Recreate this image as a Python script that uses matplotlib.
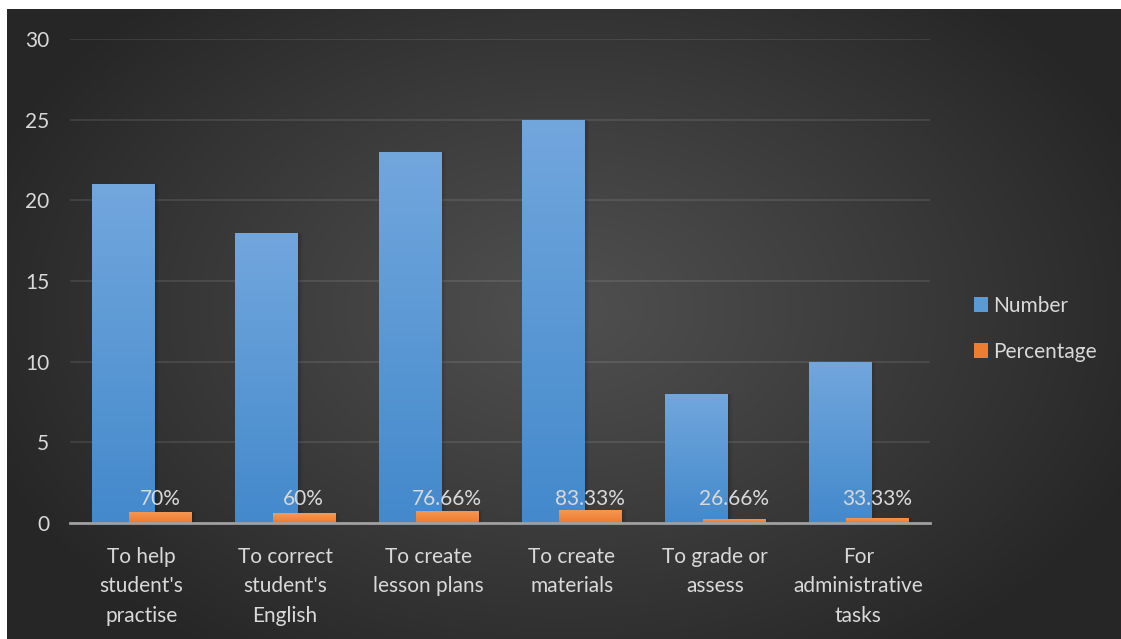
import numpy as np
import matplotlib
matplotlib.use("Agg")
import matplotlib.pyplot as plt
from matplotlib.patches import Patch
from matplotlib.colors import LinearSegmentedColormap

plt.rcParams['font.family'] = ['Lato', 'DejaVu Sans']

categories = ["To help\nstudent's\npractise", "To correct\nstudent's\nEnglish",
              "To create\nlesson plans", "To create\nmaterials",
              "To grade or\nassess", "For\nadministrative\ntasks"]
number = [21, 18, 23, 25, 8, 10]
percentage = [0.70, 0.60, 0.7666, 0.8333, 0.2666, 0.3333]
percentage_labels = ["70%", "60%", "76.66%", "83.33%", "26.66%", "33.33%"]
yticks = [0, 5, 10, 15, 20, 25, 30]

W, H = 1121, 639
FS = 15
fig = plt.figure(figsize=(W / 100, H / 100), dpi=100, facecolor='white')

# dark radial-gradient backdrop
bg = fig.add_axes([7 / W, 0, 1 - 7 / W, 630 / H])
bg.set_axis_off()
yy, xx = np.mgrid[0:630, 0:1114]
cx, cy = 560, 300
d = np.sqrt(((xx - cx) / 620) ** 2 + ((yy - cy) / 420) ** 2)
d = np.clip(d, 0, 1)
shade = 0.31 - (0.31 - 0.150) * d ** 1.1
bg.imshow(np.dstack([shade, shade, shade]), aspect='auto', extent=(0, 1, 0, 1))
bg.set_xlim(0, 1)
bg.set_ylim(0, 1)

ax = fig.add_axes([70 / W, (H - 523) / H, 860 / W, 484 / H])
ax.patch.set_alpha(0)

x = np.arange(len(categories))
bw = 0.433
off = 0.13

blue_bars = ax.bar(x - off, number, width=bw, color='#5b9bd5', zorder=3)
orange_bars = ax.bar(x + off, percentage, width=bw, color='#ed7d31', zorder=4)


def gradient_fill(bars, top, bottom, z):
    cmap = LinearSegmentedColormap.from_list('g', [bottom, top])
    grad = np.linspace(0, 1, 256).reshape(-1, 1)
    for b in bars:
        x0, y0 = b.get_x(), b.get_y()
        w, h = b.get_width(), b.get_height()
        im = ax.imshow(grad, cmap=cmap, aspect='auto', origin='lower',
                       extent=(x0, x0 + w, y0, y0 + h), zorder=z)
        im.set_clip_path(b)
        # soft shadow to the right
        for k, a in enumerate([0.10, 0.07, 0.04]):
            ax.add_patch(plt.Rectangle((x0 + w, y0), 0.012 * (k + 1), h,
                                       color='black', alpha=a, lw=0, zorder=z - 1))


gradient_fill(blue_bars, '#72a7dd', '#4389cc', 3)
gradient_fill(orange_bars, '#f59a55', '#ee7a2c', 4)

for xi, lab in zip(x + off, percentage_labels):
    ax.text(xi, 1.1, lab, ha='center', va='baseline', color='#d9d9d9',
            fontsize=FS, zorder=6)

ax.set_xlim(-0.5, len(categories) - 0.5)
ax.set_ylim(0, 30)
ax.set_yticks(yticks)
ax.set_xticks(x)
ax.set_xticklabels(categories, linespacing=1.6)
ax.tick_params(axis='both', length=0, colors='#d9d9d9', labelsize=FS)
ax.tick_params(axis='y', pad=15)
ax.tick_params(axis='x', pad=17)
ax.grid(axis='y', color='white', alpha=0.1, lw=1.3, zorder=1)
ax.set_axisbelow(True)
for s in ['top', 'right', 'left']:
    ax.spines[s].set_visible(False)
ax.spines['bottom'].set_color('#a0a0a0')
ax.spines['bottom'].set_linewidth(2)
ax.spines['bottom'].set_zorder(5)

handles = [Patch(facecolor='#5b9bd5', label='Number'),
           Patch(facecolor='#ed7d31', label='Percentage')]
leg = fig.legend(handles=handles, loc='center left',
                 bbox_to_anchor=(955 / W, 1 - 329 / H), frameon=False,
                 handlelength=0.7, handleheight=0.7, handletextpad=0.25,
                 labelspacing=1.25, fontsize=FS)
for t in leg.get_texts():
    t.set_color('#d9d9d9')

fig.savefig('out.png', dpi=100, facecolor='white')
